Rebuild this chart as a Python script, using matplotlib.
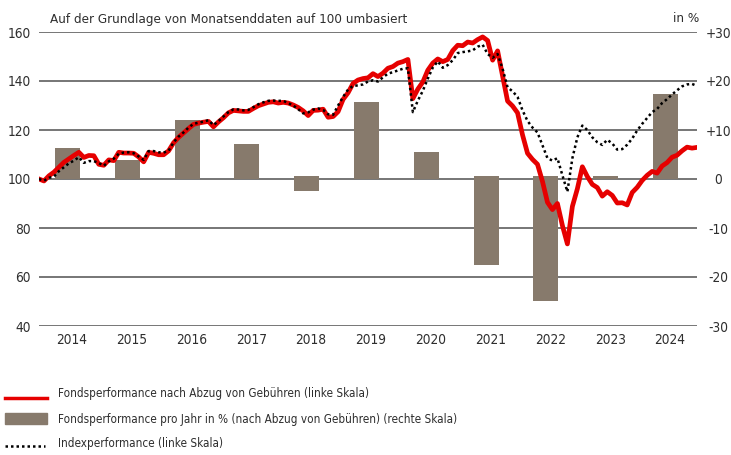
import matplotlib
matplotlib.use("Agg")
import matplotlib.pyplot as plt
from matplotlib.lines import Line2D
from matplotlib.patches import Rectangle

plt.rcParams['font.family'] = ['DejaVu Sans']
plt.rcParams['font.stretch'] = 'condensed'

# ---------------- data ----------------
years = [2014, 2015, 2016, 2017, 2018, 2019, 2020, 2021, 2022, 2023, 2024]
annual_perf = [6.3, 3.9, 12.0, 7.1, -2.4, 15.7, 5.5, -17.5, -24.8, 0.6, 17.3]

# monthly values (month-end), Dec 2013 .. Dec 2024, rebased to 100
fund = [
    100.0, 99.2, 101.3, 102.8, 104.8, 106.8, 108.2, 109.6, 110.9, 108.8, 109.6, 109.5,
    106.0, 105.6, 107.8, 107.5, 110.9, 110.6, 110.6, 110.5, 109.0, 107.0, 110.9, 110.5,
    109.9, 109.9, 111.5, 114.8, 117.0, 118.8, 120.6, 122.3, 122.8, 123.2, 123.5, 121.3,
    123.3, 125.0, 127.0, 128.0, 127.8, 127.6, 127.6, 128.8, 129.9, 130.6, 131.3, 131.5,
    131.0, 131.3, 131.0, 130.2, 129.2, 127.8, 125.9, 128.0, 128.1, 128.5, 125.2, 125.5,
    127.5, 132.5, 135.2, 139.0, 140.4, 141.0, 141.3, 143.0, 141.8, 143.2, 145.2, 145.9,
    147.3, 147.9, 148.8, 132.8, 136.7, 139.6, 144.4, 147.3, 149.0, 147.9, 148.8, 152.4,
    154.6, 154.4, 155.9, 155.5, 156.9, 158.0, 156.5, 148.5, 152.3, 142.0, 131.8, 129.8,
    127.0, 118.0, 110.5, 108.0, 106.0, 99.0, 90.5, 87.5, 90.0, 81.0, 73.5, 88.8,
    96.0, 105.0, 101.0, 97.8, 96.5, 93.0, 94.8, 93.3, 90.2, 90.3, 89.4, 94.5,
    96.6, 99.4, 101.5, 103.1, 102.4, 105.3, 106.7, 108.9, 109.7, 111.5, 113.0, 112.6,
    112.9,
]
index = [
    100.0, 99.3, 100.5, 101.0, 103.2, 104.8, 106.4, 107.5, 108.9, 106.6, 107.3, 107.3,
    106.5, 105.4, 107.2, 108.3, 110.3, 110.8, 110.9, 110.5, 109.2, 107.8, 111.4, 111.4,
    110.9, 110.8, 111.5, 115.0, 117.3, 119.0, 121.0, 122.5, 123.0, 123.4, 124.0, 122.0,
    123.6, 125.5, 127.3, 128.4, 128.4, 128.0, 128.2, 129.3, 130.5, 131.3, 131.9, 132.0,
    131.9, 131.9, 131.0, 130.0, 128.5, 126.8, 127.2, 128.3, 128.8, 128.2, 126.4, 126.2,
    130.0, 133.5, 136.5, 138.0, 138.2, 138.6, 139.8, 140.3, 139.8, 141.5, 143.0, 143.6,
    144.3, 145.0, 145.2, 127.3, 132.0, 136.0, 141.0, 145.5, 148.0, 145.4, 146.5, 148.5,
    151.4, 151.8, 152.1, 152.5, 154.0, 154.8, 151.0, 149.5, 151.0, 145.0, 137.4, 135.8,
    133.5, 128.0, 123.7, 121.0, 119.0, 113.8, 108.5, 107.5, 108.5, 101.5, 94.8, 108.5,
    117.0, 121.8, 120.0, 117.0, 115.0, 113.9, 116.0, 114.5, 112.0, 112.2, 114.0, 116.5,
    119.8, 122.5, 124.9, 127.3, 128.6, 131.0, 132.6, 134.5, 136.2, 137.8, 138.6, 138.8,
    138.0,
]

left_ticks = [40, 60, 80, 100, 120, 140, 160]
right_ticks = [-30, -20, -10, 0, 10, 20, 30]
right_labels = ['-30', '-20', '-10', '0', '+10', '+20', '+30']

title_text = 'Auf der Grundlage von Monatsenddaten auf 100 umbasiert'
unit_text = 'in %'
legend_labels = [
    'Fondsperformance nach Abzug von Gebühren (linke Skala)',
    'Fondsperformance pro Jahr in % (nach Abzug von Gebühren) (rechte Skala)',
    'Indexperformance (linke Skala)',
]

RED = '#e60000'
BAR = '#877a6c'
GRID = '#5f5f5f'
TXT = '#2e2e2e'
TICK_FS = 9.8
LEG_FS = 8.4

# ---------------- figure ----------------
W, H = 731, 455
fig = plt.figure(figsize=(W / 100, H / 100), dpi=100)
ax_bar = fig.add_axes([39 / W, 1 - 326 / H, (697 - 39) / W, (326 - 32) / H])
ax_line = ax_bar.twinx()

months = list(range(len(fund)))

# bars (right scale)
ax_bar.set_xlim(0, len(fund) - 1)
ax_bar.set_ylim(-30, 30)
bar_x = [12 * i + 5.7 for i in range(len(years))]
bottoms = [0 if v >= 0 else 0.6 for v in annual_perf]
heights = [v - b for v, b in zip(annual_perf, bottoms)]
ax_bar.bar(bar_x, heights, bottom=bottoms, width=5.0, color=BAR, zorder=2)
ax_bar.set_axisbelow(True)
ax_bar.set_yticks(right_ticks)
ax_bar.set_yticklabels(right_labels)
ax_bar.yaxis.grid(True, color=GRID, lw=1.2)
ax_bar.yaxis.tick_right()
ax_bar.tick_params(axis='y', length=0, pad=15.5, labelsize=TICK_FS, labelcolor=TXT)
for lab in ax_bar.get_yticklabels():
    lab.set_horizontalalignment('center')
ax_bar.set_xticks([12 * i + 6.6 for i in range(len(years))])
ax_bar.set_xticklabels([str(y) for y in years])
ax_bar.tick_params(axis='x', length=0, pad=5, labelsize=TICK_FS, labelcolor=TXT)
for s in ax_bar.spines.values():
    s.set_visible(False)

# lines (left scale)
ax_line.set_ylim(40, 160)
ax_line.plot(months, fund, color=RED, lw=3.4, solid_joinstyle='round', zorder=3)
ax_line.plot(months, index, color='black', lw=1.8, linestyle=(0, (1, 1.2)),
             dash_capstyle='butt', zorder=4)
ax_line.yaxis.tick_left()
ax_line.set_yticks(left_ticks)
ax_line.tick_params(axis='y', length=0, pad=6, labelsize=TICK_FS, labelcolor=TXT)
for s in ax_line.spines.values():
    s.set_visible(False)
ax_line.patch.set_visible(False)

# header texts
fig.text(50 / W, 1 - 19 / H, title_text, ha='left', va='center', fontsize=9.6, color=TXT)
fig.text(699 / W, 1 - 19 / H, unit_text, ha='right', va='center', fontsize=9.6, color=TXT)

# legend (manual)
fig.add_artist(Line2D([5 / W, 47 / W], [1 - 397.5 / H, 1 - 397.5 / H], color=RED, lw=2.5,
                      transform=fig.transFigure))
fig.add_artist(Rectangle((5 / W, 1 - 424 / H), 42 / W, 11 / H, color=BAR,
                         transform=fig.transFigure))
fig.add_artist(Line2D([5 / W, 45 / W], [1 - 446 / H, 1 - 446 / H], color='black', lw=1.8,
                      linestyle=(0, (1, 1.2)), dash_capstyle='butt',
                      transform=fig.transFigure))
for yy, lab in zip([393.5, 419, 444], legend_labels):
    fig.text(58 / W, 1 - yy / H, lab, ha='left', va='center', fontsize=LEG_FS, color=TXT)

fig.savefig('out.png', dpi=100)
